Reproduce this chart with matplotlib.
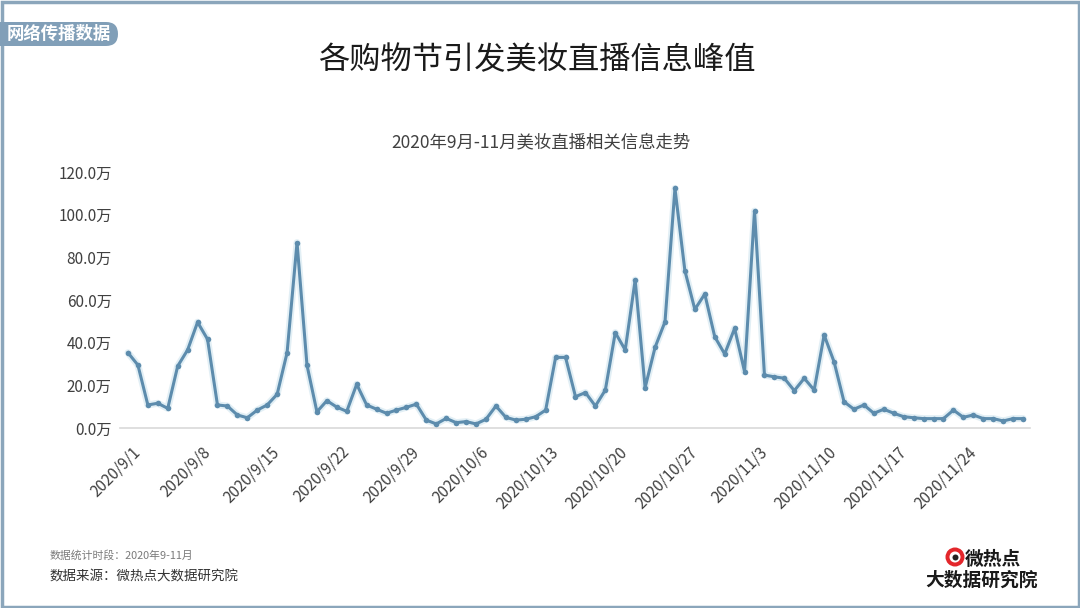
import matplotlib
matplotlib.use('Agg')
import matplotlib.pyplot as plt
from matplotlib.patches import Rectangle, FancyBboxPatch, Circle
import matplotlib.transforms as mtransforms
import pandas as pd

plt.rcParams['font.family'] = ['Noto Sans CJK SC', 'DejaVu Sans']

# data, unit: 万
dates = pd.date_range('2020-09-01', '2020-11-30', freq='D')
values = [35.3, 29.5, 10.8, 11.6, 9.2, 29.0, 36.6, 49.6, 41.6, 10.8,
          10.3, 6.1, 4.8, 8.4, 10.8, 15.8, 35.3, 86.9, 29.5, 7.6,
          12.8, 9.8, 7.8, 20.5, 10.8, 8.8, 6.9, 8.4, 9.7, 11.2,
          3.7, 1.9, 4.5, 2.5, 3.0, 1.9, 4.1, 10.3, 5.0, 3.7,
          4.1, 5.3, 8.4, 33.1, 33.1, 14.7, 16.6, 10.3, 17.8, 44.7,
          36.6, 69.4, 18.9, 37.8, 49.8, 112.3, 73.7, 55.6, 62.8, 42.8,
          34.7, 46.7, 26.4, 101.7, 24.8, 24.0, 23.3, 17.5, 23.3, 17.8,
          43.6, 31.0, 12.3, 8.8, 10.8, 6.9, 8.8, 6.9, 5.3, 4.8,
          4.4, 4.4, 4.4, 8.4, 5.0, 6.1, 4.4, 4.4, 3.3, 4.4, 4.4]
y_ticks = [0, 20, 40, 60, 80, 100, 120]
tick_step = 7

title = '各购物节引发美妆直播信息峰值'
subtitle = '2020年9月-11月美妆直播相关信息走势'
badge = '网络传播数据'
note_period = '数据统计时段：2020年9-11月'
note_source = '数据来源：微热点大数据研究院'

W, H = 1080, 608
fig = plt.figure(figsize=(W / 100, H / 100), dpi=100)
fig.patch.set_facecolor('white')

# background layer in pixel coordinates for frame, badge and logo
bg = fig.add_axes([0, 0, 1, 1])
bg.set_xlim(0, W)
bg.set_ylim(H, 0)
bg.axis('off')

bg.add_patch(Rectangle((1.5, 1.5), W - 3, H - 3, fill=False,
                       edgecolor='#8ba6bb', linewidth=2.5))
bg.add_patch(FancyBboxPatch((-20, 22), 138, 24,
                            boxstyle='round,pad=0,rounding_size=12',
                            facecolor='#819fb8', edgecolor='none'))
bg.text(59, 34, badge, color='white', fontsize=12.5,
        ha='center', va='center', fontweight='bold')

bg.text(537, 60, title, fontsize=22.5, ha='center', va='center', color='#1a1a1a')
bg.text(541, 142, subtitle, fontsize=12.5, ha='center', va='center', color='#404040')

# footnotes
bg.text(50, 555, note_period, fontsize=7.8, color='#7a7a7a', ha='left', va='center')
bg.text(50, 577, note_source, fontsize=9.7, color='#333333', ha='left', va='center')

# logo
bg.add_patch(Circle((955, 557), 9.5, facecolor='#e3262b', edgecolor='none'))
bg.add_patch(Circle((955, 557), 5.5, facecolor='white', edgecolor='none'))
bg.add_patch(Circle((955.5, 557.5), 3, facecolor='#222222', edgecolor='none'))
bg.text(993, 559, '微热点', fontsize=13.5, fontweight='bold',
        color='#1a1a1a', ha='center', va='center')
bg.text(982, 580, '大数据研究院', fontsize=13.5, fontweight='bold',
        color='#1a1a1a', ha='center', va='center')

# plot area
ax = fig.add_axes([120 / W, 1 - 428 / H, 910 / W, 256 / H])
x = list(range(len(values)))
ax.plot(x, values, color='#e2eff5', linewidth=5, solid_capstyle='round', zorder=2)
ax.plot(x, values, color='#5d8cad', linewidth=2.2, marker='o',
        markersize=4, markerfacecolor='#5d8cad', markeredgewidth=0, zorder=3)

ax.set_xlim(-0.8, len(values) - 1 + 0.7)
ax.set_ylim(0, 120)
ax.set_yticks(y_ticks)
ax.set_yticklabels([f'{v:.1f}万' for v in y_ticks])
xt = list(range(0, len(values), tick_step))
ax.set_xticks(xt)
ax.set_xticklabels([f'{d.year}/{d.month}/{d.day}' for d in dates[xt]],
                   rotation=45, ha='right', rotation_mode='anchor')
ax.tick_params(axis='both', length=0, labelsize=11, labelcolor='#404040')
ax.tick_params(axis='y', pad=6)
ax.tick_params(axis='x', pad=11)
shift = mtransforms.ScaledTranslation(4 / 100, 0, fig.dpi_scale_trans)
for lbl in ax.get_xticklabels():
    lbl.set_transform(lbl.get_transform() + shift)
for side in ['top', 'right', 'left']:
    ax.spines[side].set_visible(False)
ax.spines['bottom'].set_color('#d9d9d9')
ax.spines['bottom'].set_linewidth(1.2)
ax.patch.set_alpha(0)

fig.savefig('out.png', dpi=100)
